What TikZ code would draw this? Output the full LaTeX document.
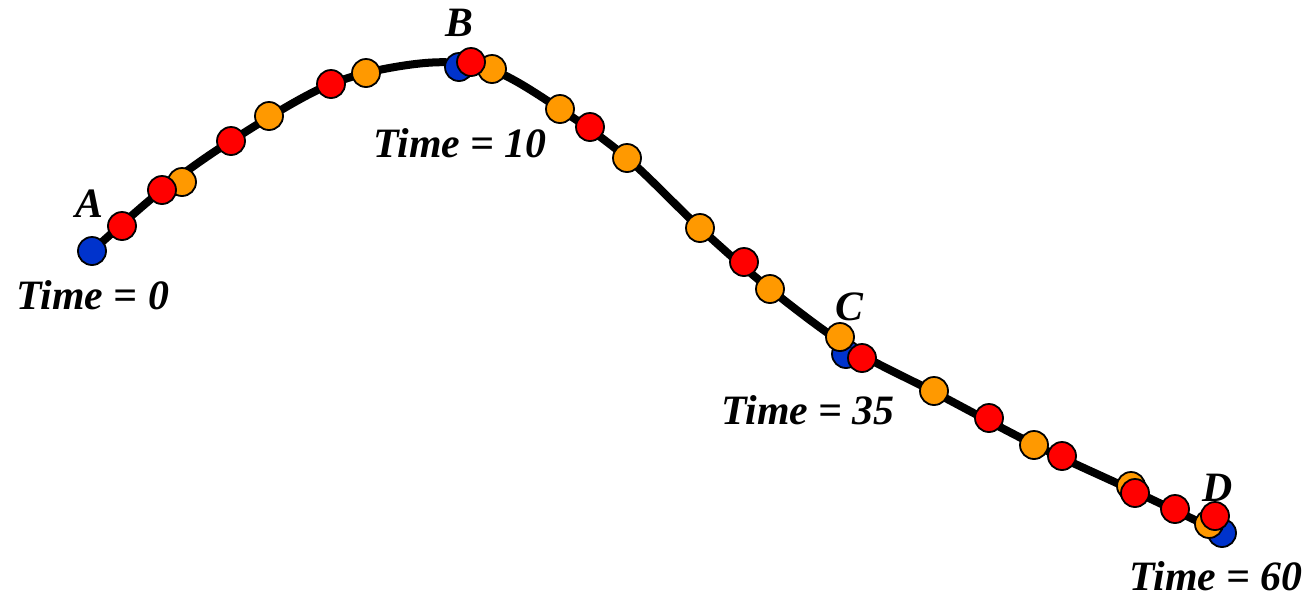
\documentclass[tikz,border=0pt]{standalone}
\usepackage{fontspec}
\setmainfont{Liberation Serif}
\definecolor{dotblue}{RGB}{0,51,204}
\definecolor{dotred}{RGB}{255,0,0}
\definecolor{dotorange}{RGB}{255,153,0}
\begin{document}
\begin{tikzpicture}[x=0.5pt,y=-0.5pt,
  dot/.style={circle,draw=black,line width=0.9pt,minimum size=14pt,inner sep=0pt},
  bdot/.style={dot,fill=dotblue},
  rdot/.style={dot,fill=dotred},
  odot/.style={dot,fill=dotorange},
  lbl/.style={font=\fontsize{20.9}{24}\selectfont\bfseries\itshape,inner sep=0pt,anchor=center},
  track/.style={line width=4pt,black}]
\useasboundingbox (0,0) rectangle (1311,596);
% curve through-points
\coordinate (k1) at (92,251);
\coordinate (k2) at (162,190);
\coordinate (k3) at (231,141);
\coordinate (k4) at (331,84);
\coordinate (k5) at (425,63);
\coordinate (k6) at (492,70);
\coordinate (k7) at (560,109);
\coordinate (k8) at (627,158);
\coordinate (k9) at (700,228);
\coordinate (k10) at (770,289);
\coordinate (k11) at (850,348);
\coordinate (k12) at (934,392);
\coordinate (k13) at (1035,445);
\coordinate (k14) at (1134,491);
\coordinate (k15) at (1218,531);
\draw[track] plot[smooth,tension=0.55] coordinates {(k1) (k2) (k3) (k4) (k5) (k6) (k7) (k8) (k9) (k10) (k11) (k12) (k13) (k14) (k15)};
% blue dots
\node[bdot] (bA) at (92,251) {};
\node[bdot] (bB) at (459,67) {};
\node[bdot] (bC) at (846,354) {};
\node[bdot] (bD) at (1222,533) {};
% orange dots
\node[odot] (o1) at (182,182) {};
\node[odot] (o2) at (269,116) {};
\node[odot] (o3) at (366,73) {};
\node[odot] (o4) at (492,69) {};
\node[odot] (o5) at (560,109) {};
\node[odot] (o6) at (627,158) {};
\node[odot] (o7) at (700,228) {};
\node[odot] (o8) at (770,289) {};
\node[odot] (o9) at (840,337) {};
\node[odot] (o10) at (934,391) {};
\node[odot] (o11) at (1034,445) {};
\node[odot] (o12) at (1131,486) {};
\node[odot] (o13) at (1209,524) {};
% red dots
\node[rdot] (r1) at (122,226) {};
\node[rdot] (r2) at (162,190) {};
\node[rdot] (r3) at (231,141) {};
\node[rdot] (r4) at (331,84) {};
\node[rdot] (r5) at (471,62) {};
\node[rdot] (r6) at (590,127) {};
\node[rdot] (r7) at (744,262) {};
\node[rdot] (r8) at (862,358) {};
\node[rdot] (r9) at (989,418) {};
\node[rdot] (r10) at (1062,456) {};
\node[rdot] (r11) at (1135,493) {};
\node[rdot] (r12) at (1175,509) {};
\node[rdot] (r13) at (1215,516) {};
% labels
\node[lbl] (lA) at (89,204) {A};
\node[lbl] (lB) at (459,23) {B};
\node[lbl] (lC) at (849,307) {C};
\node[lbl] (lD) at (1218,488) {D};
\node[lbl] (t0) at (93,295) {Time = 0};
\node[lbl] (t10) at (460,143) {Time = 10};
\node[lbl] (t35) at (808,410) {Time = 35};
\node[lbl] (t60) at (1216,576) {Time = 60};
\end{tikzpicture}
\end{document}
